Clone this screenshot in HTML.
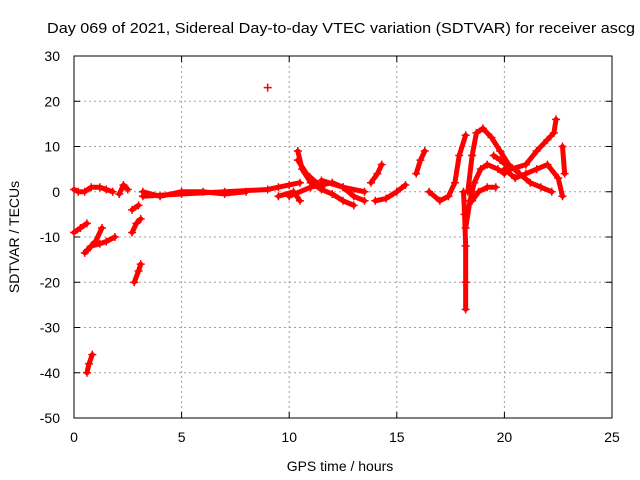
<!DOCTYPE html>
<html><head><meta charset="utf-8"><style>
body{margin:0;background:#fff}
svg{display:block;font-family:"Liberation Sans",sans-serif;font-size:14px}
</style></head><body>
<svg id="c" width="640" height="480">
<text x="47" y="33" textLength="588" lengthAdjust="spacingAndGlyphs" style="font-size:15px">Day 069 of 2021, Sidereal Day-to-day VTEC variation (SDTVAR) for receiver ascg</text>
<text x="340" y="471" text-anchor="middle">GPS time / hours</text>
<text transform="translate(19,237) rotate(-90)" text-anchor="middle">SDTVAR / TECUs</text>
<g id="grid"></g><g id="marks"></g>
</svg>
<script>
const xTicks=[0,5,10,15,20,25];
const yTicks=[-50,-40,-30,-20,-10,0,10,20,30];
const t1=[[0,0.5],[0.2,0],[0.5,0],[0.8,1],[1.2,1],[1.5,0.5],[1.8,0]];
const t2=[[0,-9],[0.3,-8],[0.6,-7]];
const t3=[[0.5,-13.5],[0.8,-12],[1.2,-11.5],[1.5,-11],[1.9,-10]];
const t4=[[0.6,-13],[1,-11],[1.3,-8]];
const t5=[[0.6,-40],[0.7,-38],[0.85,-36]];
const t6=[[2.1,-0.5],[2.3,1.5],[2.5,0.5]];
const t7=[[2.7,-4],[3,-3]];
const t8=[[2.7,-9],[2.9,-7],[3.1,-6]];
const t9=[[2.8,-20],[3,-17.5],[3.1,-16]];
const t10=[[3.2,-1],[5,-0.5],[7,0],[9,0.5],[9.5,1],[10,1.5],[10.5,2]];
const t11=[[3.2,0],[4,-1],[5,0],[6,0],[7,-0.5],[8,0]];
const t12=[[9,23]];
const t13=[[10.4,9],[10.6,5],[11,2],[11.5,0.5],[12,-0.5],[12.5,-2],[13,-3]];
const t14=[[10.4,7],[10.8,4],[11.5,1]];
const t15=[[10,-1],[11,1],[12,2],[12.5,1],[13,-1],[13.5,-2]];
const t16=[[9.5,-1],[10.2,0],[10.5,-2]];
const t17=[[11.5,2.5],[12.5,1],[13.5,0]];
const t18=[[13.8,2],[14.1,4],[14.3,6]];
const t19=[[14,-2],[14.5,-1.5],[15,0],[15.4,1.5]];
const t20=[[15.9,4],[16.1,7],[16.3,9]];
const t21=[[16.5,0],[17,-2],[17.4,-1],[17.7,2],[17.9,8],[18.2,12.5]];
const t22=[[18.1,0],[18.15,-5],[18.2,-12],[18.2,-20],[18.2,-26]];
const t23=[[18.2,-8],[18.4,-2],[18.6,2],[18.9,5],[19.2,6],[19.7,5],[20,4]];
const t24=[[18.3,0],[18.5,8],[18.7,13],[19,14],[19.4,12],[19.8,9],[20.2,6],[20.7,4],[21.2,2],[21.7,1],[22.2,0]];
const t25=[[18.5,-2],[18.8,0],[19.2,1],[19.6,1]];
const t26=[[19.5,8],[19.8,7],[20.3,5],[21,6],[21.5,9],[22,11.5],[22.3,13],[22.4,16]];
const t27=[[20,5],[20.5,3],[21,4],[21.5,5],[22,6],[22.5,3],[22.7,-1]];
const t28=[[22.7,10],[22.8,4]];
const tracks=[t1,t2,t3,t4,t5,t6,t7,t8,t9,t10,t11,t12,t13,t14,t15,t16,t17,t18,t19,t20,t21,t22,t23,t24,t25,t26,t27,t28];
const L=74,R=612,T=56,B=418;
const sx=v=>L+(v-0)/25*(R-L), sy=v=>B-(v+50)/80*(B-T);
const NS="http://www.w3.org/2000/svg";
const g=document.getElementById('grid'), m=document.getElementById('marks');
function mk(tag,a,p){const e=document.createElementNS(NS,tag);for(const k in a)e.setAttribute(k,a[k]);p.appendChild(e);return e;}
xTicks.forEach(v=>{const x=sx(v);
 if(v>0&&v<25){const l=mk('line',{x1:x,y1:T,x2:x,y2:B,stroke:'#a0a0a0','stroke-dasharray':'2,3'},g);
 
 }
 mk('line',{x1:x,y1:B,x2:x,y2:B-6,stroke:'#000'},g);mk('line',{x1:x,y1:T,x2:x,y2:T+6,stroke:'#000'},g);
 const t=mk('text',{x:x,y:B+24,'text-anchor':'middle'},g);t.textContent=v;
 
 });
yTicks.forEach(v=>{const y=sy(v);
 if(v>-50&&v<30){const l=mk('line',{x1:L,y1:y,x2:R,y2:y,stroke:'#a0a0a0','stroke-dasharray':'2,3'},g);
 
 }
 mk('line',{x1:L,y1:y,x2:L+6,y2:y,stroke:'#000'},g);mk('line',{x1:R,y1:y,x2:R-6,y2:y,stroke:'#000'},g);
 const t=mk('text',{x:L-14,y:y+5,'text-anchor':'end'},g);t.textContent=v;
 
 });
const fr=mk('rect',{x:L,y:T,width:R-L,height:B-T,fill:'none',stroke:'#000'},g);


tracks.forEach(tr=>{
 const pl=mk('polyline',{points:tr.map(p=>sx(p[0])+','+sy(p[1])).join(' '),fill:'none',stroke:'#f00','stroke-width':5,'stroke-linejoin':'round','stroke-linecap':'round'},m);
 
 
 tr.forEach(p=>{const x=sx(p[0]),y=sy(p[1]);
  const c=mk('path',{d:`M${x-4} ${y}H${x+4}M${x} ${y-4}V${y+4}`,stroke:'#f00','stroke-width':1.5},m);
  
  });
});
</script>
</body></html>
